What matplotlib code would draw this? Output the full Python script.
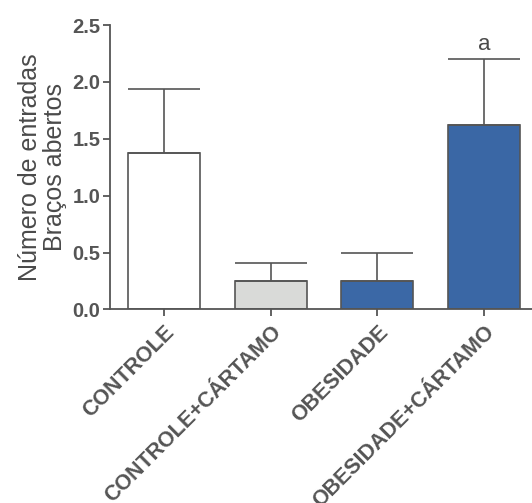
import matplotlib.pyplot as plt

groups = ['CONTROLE', 'CONTROLE+CÁRTAMO', 'OBESIDADE', 'OBESIDADE+CÁRTAMO']
means = [1.375, 0.25, 0.25, 1.625]
errors = [0.565, 0.16, 0.25, 0.575]
colors = ['#ffffff', '#d9dad8', '#3b68a6', '#3a67a5']
letters = ['', '', '', 'a']

plt.rcParams['font.family'] = ['Liberation Sans', 'DejaVu Sans']
txt = '#4a4a4a'

fig = plt.figure(figsize=(5.32, 5.03), dpi=100)
ax = fig.add_axes([0.207, 0.385, 0.793, 0.565])

x = range(len(groups))
ax.bar(x, means, width=0.675, color=colors, edgecolor='#555555', linewidth=1.2,
       yerr=[[0] * len(errors), errors], capsize=26,
       error_kw=dict(ecolor='#555555', elinewidth=1.2, capthick=1.2))

for i, (m, e, l) in enumerate(zip(means, errors, letters)):
    if l:
        ax.text(i, m + e + 0.04, l, ha='center', va='bottom', fontsize=16,
                color=txt)

ax.set_xlim(-0.505, 3.45)
ax.set_ylim(0, 2.5)
ax.set_yticks([0.0, 0.5, 1.0, 1.5, 2.0, 2.5])
ax.set_yticklabels(['0.0', '0.5', '1.0', '1.5', '2.0', '2.5'])
ax.set_xticks(list(x))
# labels run off the bottom edge, as in the original figure
ax.set_xticklabels(groups, rotation=45, ha='right', rotation_mode='anchor',
                   fontsize=15.5, fontweight='bold', color=txt)
for lab in ax.get_yticklabels():
    lab.set_fontsize(14.5)
    lab.set_fontweight('bold')
    lab.set_color(txt)

ax.set_ylabel('Número de entradas\nBraços abertos', fontsize=18, color=txt,
              linespacing=1.05, labelpad=4)

for s in ['top', 'right']:
    ax.spines[s].set_visible(False)
for s in ['left', 'bottom']:
    ax.spines[s].set_color('#555555')
    ax.spines[s].set_linewidth(1.3)
ax.tick_params(axis='both', colors='#555555', width=1.3, length=5, pad=2)
ax.tick_params(axis='x', pad=4)

fig.savefig('out.png', dpi=100)
